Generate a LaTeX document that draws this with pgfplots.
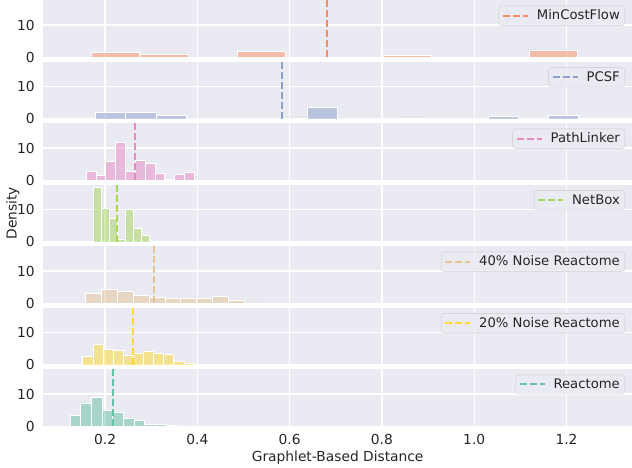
\documentclass[border=0pt]{standalone}
\usepackage{fontspec}
\setmainfont{DejaVu Sans}
\usepackage{pgfplots}
\pgfplotsset{compat=1.18}
\definecolor{bg}{HTML}{EAEAF2}
\definecolor{tickc}{HTML}{262626}
\definecolor{legedge}{HTML}{CCCCCC}
\definecolor{cMCF}{HTML}{FC8D62}
\definecolor{cPCSF}{HTML}{8DA0CB}
\definecolor{cPL}{HTML}{E78AC3}
\definecolor{cNB}{HTML}{A6D854}
\definecolor{cN40}{HTML}{E5C494}
\definecolor{cN20}{HTML}{FFD92F}
\definecolor{cRE}{HTML}{66C2A5}
\newcommand{\fs}{\fontsize{13.8}{16}\selectfont}
\newcommand{\fl}{\fontsize{13.2}{15.5}\selectfont}
\pgfplotsset{panel/.style={
  width=588.7pt, height=57.3pt, scale only axis,
  anchor=north west,
  xmin=0.066, xmax=1.342, ymin=0, ymax=17.8,
  axis background/.style={fill=bg},
  axis line style={draw=none},
  grid=major, major grid style={white, line width=1.3pt},
  xtick={0.2,0.4,0.6,0.8,1.0,1.2}, ytick={0,10},
  major tick length=0pt,
  xticklabels={},
  tick label style={font=\fs, text=tickc},
  yticklabel style={xshift=-5pt},
  xticklabel style={yshift=-4pt},
  /pgf/number format/assume math mode=true,
  legend style={at={(1,1)}, anchor=north east, xshift=-7pt, yshift=-5.7pt,
    draw=legedge, fill=bg, fill opacity=0.8, text opacity=1,
    rounded corners=3pt, font=\fl, text=tickc, inner xsep=3pt, inner ysep=2pt},
  legend cell align=left,
  legend image code/.code={\draw[#1] (0pt,0pt) -- (25pt,0pt); \path (31pt,0pt);},
},
hist/.style={ybar interval, fill=#1, fill opacity=0.5, draw=white, line width=0.6pt, forget plot},
mean/.style={color=#1, line width=2pt, dash pattern=on 7pt off 3pt},
}
\begin{document}
\begin{tikzpicture}
\path[use as bounding box] (-43.3pt,-467pt) rectangle (588.7pt,0pt);
% MinCostFlow
\begin{axis}[panel, at={(0pt,0pt)}]
\addplot[hist=cMCF] coordinates {(0.169,1.44) (0.2745,1.03) (0.380,0) (0.4855,1.75) (0.591,0) (0.6965,0) (0.802,0.62) (0.9075,0) (1.013,0) (1.1185,2.27) (1.224,2.27)};
\addplot[mean=cMCF] coordinates {(0.68,0) (0.68,17.8)};
\addlegendentry{MinCostFlow}
\end{axis}
% PCSF
\begin{axis}[panel, at={(0pt,-61.5pt)}]
\addplot[hist=cPCSF] coordinates {(0.179,2.06) (0.2445,1.96) (0.3099,1.03) (0.3754,0) (0.4408,0) (0.5063,0) (0.5718,0.3) (0.6372,3.5) (0.7027,0) (0.7681,0) (0.8336,0.3) (0.8991,0) (0.9645,0) (1.0300,0.72) (1.0954,0) (1.1609,1.03) (1.2264,1.03)};
\addplot[mean=cPCSF] coordinates {(0.583,0) (0.583,17.8)};
\addlegendentry{PCSF}
\end{axis}
% PathLinker
\begin{axis}[panel, at={(0pt,-123pt)}]
\addplot[hist=cPL] coordinates {(0.1588,2.78) (0.1801,1.55) (0.2014,5.88) (0.2227,11.86) (0.2440,2.78) (0.2653,6.19) (0.2866,5.36) (0.3079,2.16) (0.3292,0.41) (0.3505,1.86) (0.3718,2.37) (0.3931,2.37)};
\addplot[mean=cPL] coordinates {(0.265,0) (0.265,17.8)};
\addlegendentry{PathLinker}
\end{axis}
% NetBox
\begin{axis}[panel, at={(0pt,-184.5pt)}]
\addplot[hist=cNB] coordinates {(0.1747,16.8) (0.1921,10.4) (0.2094,7.42) (0.2268,0.93) (0.2441,10.1) (0.2615,4.12) (0.2789,2.06) (0.2962,2.06)};
\addplot[mean=cNB] coordinates {(0.226,0) (0.226,17.8)};
\addlegendentry{NetBox}
\end{axis}
% 40% Noise
\begin{axis}[panel, at={(0pt,-246pt)}]
\addplot[hist=cN40] coordinates {(0.158,3.09) (0.1923,4.43) (0.2266,3.61) (0.2609,2.47) (0.2952,1.96) (0.3295,1.65) (0.3638,1.65) (0.3981,1.65) (0.4324,2.06) (0.4667,1.03) (0.5010,0.1) (0.5353,0.1)};
\addplot[mean=cN40] coordinates {(0.306,0) (0.306,17.8)};
\addlegendentry{40\% Noise Reactome}
\end{axis}
% 20% Noise
\begin{axis}[panel, at={(0pt,-307.5pt)}]
\addplot[hist=cN20] coordinates {(0.1516,2.5) (0.1735,6.5) (0.1954,4.9) (0.2173,4.4) (0.2392,3.1) (0.2611,3.5) (0.2830,4.3) (0.3049,3.5) (0.3268,3.3) (0.3487,1.07) (0.3706,0.45) (0.3925,0.15) (0.4144,0.15)};
\addplot[mean=cN20] coordinates {(0.261,0) (0.261,17.8)};
\addlegendentry{20\% Noise Reactome}
\end{axis}
% Reactome
\begin{axis}[panel, at={(0pt,-369pt)}, xticklabels={0.2,0.4,0.6,0.8,1.0,1.2},
  xlabel={Graphlet-Based Distance},
  xlabel style={font=\fs, text=tickc, at={(axis description cs:0.5,0)}, anchor=center, yshift=-31pt}]
\addplot[hist=cRE] coordinates {(0.124,3.5) (0.1471,7.3) (0.1702,9.0) (0.1933,5.05) (0.2164,4.2) (0.2395,2.5) (0.2626,1.75) (0.2857,0.6) (0.3088,0.6) (0.3319,0.3) (0.355,0.3)};
\addplot[mean=cRE] coordinates {(0.216,0) (0.216,17.8)};
\addlegendentry{Reactome}
\end{axis}
\node[rotate=90, font=\fs, text=tickc] at (-30.5pt,-213.15pt) {Density};
\end{tikzpicture}
\end{document}
